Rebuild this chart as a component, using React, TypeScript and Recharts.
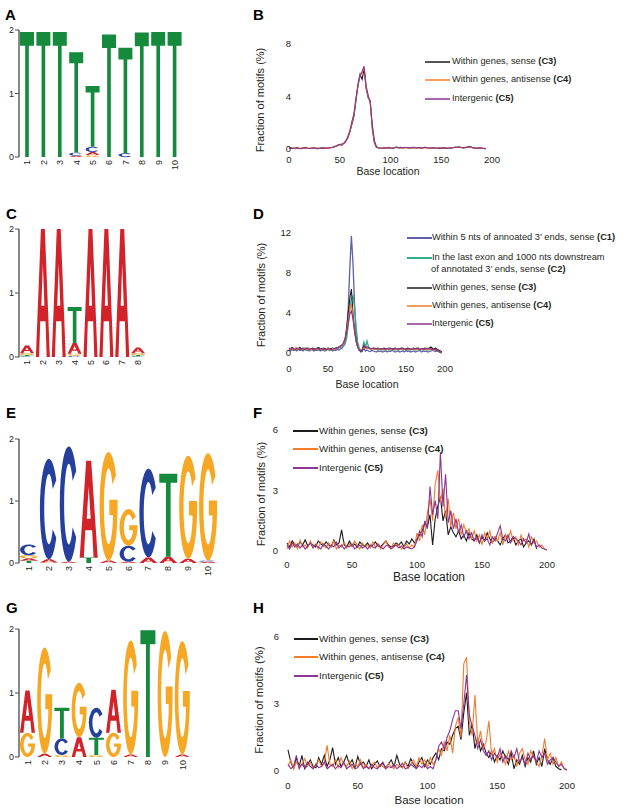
import React from 'react'
import { BarChart, Bar, XAxis, YAxis, LineChart, Line } from 'recharts'

const FONT = 'Arial, "Liberation Sans", Helvetica, sans-serif'
const INK = '#231f20'

// ---- sequence logos: information (bits) per nucleotide, positions 1..n ----
const A_A = [0, 0, 0, 0.02, 0.05, 0, 0, 0, 0, 0]
const A_C = [0, 0, 0, 0.05, 0.08, 0, 0.06, 0, 0, 0]
const A_G = [0, 0, 0, 0, 0.03, 0, 0, 0, 0, 0]
const A_T = [1.97, 1.97, 1.97, 1.58, 0.96, 1.93, 1.66, 1.96, 1.97, 1.97]

const C_A = [0.12, 2.0, 2.0, 0.17, 2.0, 2.0, 2.0, 0.09]
const C_C = [0.01, 0, 0, 0.02, 0, 0, 0, 0.01]
const C_G = [0.03, 0, 0, 0.03, 0, 0, 0, 0.03]
const C_T = [0.02, 0, 0, 0.56, 0, 0, 0, 0.02]

const E_A = [0.04, 0.05, 0.02, 1.56, 0.04, 0.02, 0.09, 0.1, 0.07, 0.02]
const E_C = [0.175, 1.62, 1.86, 0, 0, 0.26, 1.43, 0, 0, 0.02]
const E_G = [0.05, 0.01, 0, 0, 1.75, 0.59, 0, 0, 1.66, 1.73]
const E_T = [0.035, 0, 0, 0.09, 0, 0, 0, 1.34, 0, 0]

const G_A = [0.66, 0.05, 0, 0.31, 0, 0.67, 0.04, 0, 0, 0.04]
const G_C = [0, 0, 0.26, 0, 0.47, 0, 0, 0, 0, 0]
const G_G = [0.38, 1.66, 0.03, 0.85, 0.03, 0.38, 1.78, 0, 1.97, 1.77]
const G_T = [0, 0, 0.48, 0, 0.27, 0, 0, 1.98, 0, 0]

// ---- motif position profiles, one value every 2 bases from base 0 ----
const B_C3 = [
  0.05, 0.08, 0.04, 0.06, 0.1, 0.05, 0.03, 0.07, 0.12, 0.06, 0.04, 0.05, 0.08, 0.06, 0.03, 0.05, 0.07, 0.09, 0.05, 0.06, 0.1, 0.12, 0.15,
  0.2, 0.28, 0.35, 0.3, 0.45, 0.6, 0.85, 1.3, 1.9, 2.5, 3.7, 4.9, 5.7, 5.3, 6.1, 4.6, 3.9, 3.7, 1.6, 0.5, 0.15, 0.08,
  0.06, 0.05, 0.1, 0.08, 0.12, 0.07, 0.05, 0.1, 0.15, 0.09, 0.12, 0.08, 0.1, 0.13, 0.06, 0.09, 0.12, 0.1, 0.08, 0.11,
  0.07, 0.1, 0.13, 0.09, 0.06, 0.08, 0.1, 0.07, 0.05, 0.08, 0.06, 0.09, 0.07, 0.05, 0.06, 0.08, 0.1, 0.14, 0.12, 0.16,
  0.1, 0.08, 0.12, 0.15, 0.2, 0.12, 0.08, 0.05, 0.07, 0.1, 0.06, 0.04, 0.03,
]
const B_C4 = [
  0.06, 0.05, 0.07, 0.04, 0.08, 0.06, 0.05, 0.09, 0.07, 0.05, 0.06, 0.08, 0.05, 0.07, 0.06, 0.04, 0.08, 0.06, 0.07, 0.05, 0.09, 0.11, 0.14,
  0.22, 0.25, 0.33, 0.36, 0.42, 0.62, 0.9, 1.35, 2.0, 2.6, 3.8, 4.8, 5.6, 5.8, 6.2, 4.7, 4.0, 3.6, 1.8, 0.6, 0.18, 0.09,
  0.07, 0.06, 0.08, 0.1, 0.09, 0.06, 0.07, 0.11, 0.12, 0.08, 0.1, 0.09, 0.12, 0.1, 0.07, 0.08, 0.1, 0.12, 0.09, 0.1,
  0.08, 0.09, 0.11, 0.1, 0.07, 0.09, 0.08, 0.06, 0.07, 0.09, 0.07, 0.08, 0.06, 0.07, 0.08, 0.09, 0.11, 0.12, 0.13, 0.14,
  0.11, 0.1, 0.13, 0.14, 0.16, 0.11, 0.09, 0.06, 0.08, 0.09, 0.07, 0.05, 0.03,
]
const B_C5 = [
  0.07, 0.05, 0.06, 0.08, 0.06, 0.04, 0.06, 0.08, 0.1, 0.07, 0.05, 0.06, 0.07, 0.05, 0.05, 0.06, 0.08, 0.07, 0.06, 0.07, 0.08, 0.1, 0.16,
  0.21, 0.26, 0.34, 0.38, 0.4, 0.6, 0.95, 1.4, 2.1, 2.7, 3.9, 4.9, 5.6, 5.9, 6.3, 4.8, 4.1, 3.5, 1.9, 0.7, 0.2, 0.1,
  0.08, 0.06, 0.09, 0.07, 0.1, 0.08, 0.06, 0.09, 0.13, 0.1, 0.11, 0.1, 0.09, 0.11, 0.08, 0.1, 0.11, 0.09, 0.1, 0.12,
  0.09, 0.08, 0.12, 0.1, 0.08, 0.07, 0.09, 0.08, 0.06, 0.07, 0.08, 0.07, 0.08, 0.06, 0.07, 0.1, 0.09, 0.13, 0.15, 0.12,
  0.12, 0.09, 0.1, 0.16, 0.18, 0.13, 0.1, 0.07, 0.06, 0.08, 0.06, 0.05, 0.02,
]

const D_C1 = [
  0.3, 0.2, 0.35, 0.25, 0.3, 0.2, 0.4, 0.25, 0.3, 0.2, 0.35, 0.3, 0.25, 0.2, 0.3, 0.35, 0.2, 0.3, 0.25, 0.35, 0.2, 0.3, 0.25, 0.2, 0.3, 0.35, 0.25, 0.3, 0.2, 0.3, 0.25, 0.35, 0.3, 0.4, 0.5,
  0.7, 1.1, 2.2, 4.6, 8.6, 11.7, 9.0, 5.0, 2.0, 0.8, 0.3, 0.1, 0.15, 0.5, 0.2, 0.3,
  0.2, 0.15, 0.25, 0.2, 0.15, 0.1, 0.2, 0.15, 0.2, 0.1, 0.15, 0.2, 0.1, 0.2, 0.15, 0.25, 0.2, 0.1, 0.15, 0.2, 0.1, 0.15, 0.2, 0.1,
  0.25, 0.15, 0.2, 0.1, 0.15, 0.2, 0.1, 0.15, 0.2, 0.25, 0.1, 0.2, 0.15, 0.2, 0.1, 0.15, 0.2, 0.3, 0.2, 0.15, 0.2, 0.1, 0.05, 0.02,
]
const D_C2 = [
  0.4, 0.3, 0.45, 0.35, 0.3, 0.4, 0.35, 0.45, 0.3, 0.4, 0.35, 0.3, 0.4, 0.45, 0.35, 0.3, 0.4, 0.35, 0.3, 0.45, 0.4, 0.35, 0.3, 0.4, 0.35, 0.45, 0.3, 0.4, 0.35, 0.4, 0.45, 0.4, 0.5, 0.55, 0.6,
  0.7, 0.9, 1.5, 2.8, 4.4, 5.4, 5.7, 4.6, 2.6, 1.1, 0.5, 0.25, 0.4, 1.1, 0.6, 1.2,
  0.6, 0.5, 0.45, 0.4, 0.35, 0.4, 0.3, 0.35, 0.4, 0.3, 0.35, 0.3, 0.4, 0.35, 0.3, 0.35, 0.4, 0.3, 0.35, 0.3, 0.4, 0.35, 0.3, 0.35,
  0.4, 0.3, 0.35, 0.3, 0.35, 0.4, 0.3, 0.35, 0.3, 0.4, 0.35, 0.3, 0.35, 0.4, 0.3, 0.35, 0.3, 0.4, 0.35, 0.3, 0.25, 0.2, 0.1, 0.05,
]
const D_C3 = [
  0.5, 0.4, 0.55, 0.45, 0.4, 0.5, 0.45, 0.55, 0.4, 0.5, 0.45, 0.4, 0.5, 0.45, 0.4, 0.5, 0.45, 0.4, 0.5, 0.55, 0.45, 0.4, 0.5, 0.45, 0.4, 0.5, 0.45, 0.4, 0.5, 0.45, 0.5, 0.55, 0.6, 0.7, 0.8,
  1.0, 1.5, 2.6, 4.0, 5.5, 6.4, 4.0, 2.4, 1.2, 0.6, 0.3, 0.2, 0.3, 0.7, 0.5, 0.6,
  0.5, 0.45, 0.4, 0.5, 0.45, 0.4, 0.5, 0.45, 0.4, 0.45, 0.5, 0.4, 0.45, 0.5, 0.4, 0.45, 0.4, 0.5, 0.45, 0.4, 0.45, 0.5, 0.4, 0.45,
  0.4, 0.5, 0.45, 0.4, 0.45, 0.5, 0.4, 0.45, 0.5, 0.4, 0.45, 0.4, 0.5, 0.45, 0.4, 0.5, 0.6, 0.45, 0.4, 0.5, 0.35, 0.3, 0.2, 0.1,
]
const D_C4 = [
  0.35, 0.45, 0.3, 0.4, 0.5, 0.35, 0.45, 0.3, 0.4, 0.35, 0.5, 0.4, 0.35, 0.45, 0.3, 0.4, 0.35, 0.45, 0.4, 0.3, 0.35, 0.45, 0.4, 0.3, 0.45, 0.35, 0.4, 0.3, 0.45, 0.4, 0.35, 0.5, 0.55, 0.65, 0.75,
  0.9, 1.3, 2.2, 3.4, 4.4, 4.9, 3.6, 2.1, 1.1, 0.6, 0.35, 0.3, 0.35, 0.5, 0.45, 0.55,
  0.45, 0.4, 0.35, 0.45, 0.4, 0.35, 0.4, 0.45, 0.35, 0.4, 0.3, 0.4, 0.35, 0.45, 0.4, 0.3, 0.35, 0.4, 0.45, 0.35, 0.3, 0.4, 0.35, 0.45,
  0.4, 0.35, 0.3, 0.4, 0.45, 0.35, 0.4, 0.3, 0.35, 0.45, 0.4, 0.35, 0.4, 0.3, 0.45, 0.35, 0.4, 0.3, 0.35, 0.3, 0.25, 0.2, 0.1, 0.05,
]
const D_C5 = [
  0.45, 0.35, 0.5, 0.4, 0.35, 0.45, 0.4, 0.3, 0.45, 0.4, 0.35, 0.5, 0.4, 0.35, 0.45, 0.4, 0.3, 0.4, 0.45, 0.35, 0.4, 0.45, 0.35, 0.4, 0.3, 0.45, 0.4, 0.35, 0.4, 0.45, 0.4, 0.5, 0.6, 0.7, 0.8,
  1.0, 1.4, 2.1, 3.0, 3.9, 4.2, 3.4, 2.2, 1.2, 0.6, 0.3, 0.25, 0.3, 0.8, 0.6, 0.5,
  0.5, 0.45, 0.4, 0.45, 0.5, 0.4, 0.45, 0.35, 0.4, 0.45, 0.4, 0.35, 0.45, 0.4, 0.5, 0.4, 0.35, 0.45, 0.4, 0.35, 0.45, 0.4, 0.5, 0.4,
  0.35, 0.4, 0.45, 0.4, 0.35, 0.45, 0.4, 0.5, 0.4, 0.35, 0.45, 0.4, 0.35, 0.45, 0.5, 0.4, 0.45, 0.35, 0.4, 0.3, 0.25, 0.2, 0.1, 0.05,
]

const F_C3 = [
  0.4, 0.2, 0.5, 0.3, 0.2, 0.45, 0.3, 0.55, 0.25, 0.4, 0.3, 0.2, 0.5, 0.35, 0.25, 0.45, 0.3, 0.2, 0.55, 0.3, 0.4,
  1.05, 0.3, 0.2, 0.5, 0.25, 0.35, 0.2, 0.45, 0.3, 0.25, 0.4, 0.2, 0.3, 0.45, 0.25, 0.2, 0.35, 0.5, 0.3, 0.2, 0.25, 0.4, 0.3, 0.45, 0.2, 0.5, 0.35, 0.6, 0.4,
  0.6, 0.8, 1.0, 1.4, 1.2, 1.8, 0.3, 1.6, 2.2, 2.7, 1.5, 2.0, 0.8, 1.2, 0.9, 0.7, 1.0, 0.6, 0.8, 0.5, 0.9,
  0.6, 0.5, 0.8, 0.4, 0.7, 0.5, 0.9, 0.6, 0.4, 0.7, 0.5, 0.3, 0.6, 0.8, 0.4, 0.5, 0.7, 0.3, 0.5, 0.6, 0.2, 0.4, 0.5, 0.3, 0.6, 0.1,
]
const F_C4 = [
  0.1, 0.5, 0.2, 0.4, 0.1, 0.55, 0.2, 0.3, 0.15, 0.5, 0.2, 0.35, 0.1, 0.45, 0.3, 0.15, 0.4, 0.2, 0.5, 0.1,
  0.3, 0.2, 0.45, 0.15, 0.35, 0.2, 0.5, 0.3, 0.1, 0.4, 0.2, 0.3, 0.15, 0.45, 0.2, 0.35, 0.1, 0.3, 0.5, 0.2,
  0.15, 0.4, 0.25, 0.3, 0.1, 0.2, 0.35, 0.15, 0.3, 0.2,
  0.9, 0.5, 1.3, 0.8, 1.9, 2.6, 1.5, 3.3, 4.0, 2.4, 3.1, 1.6, 2.6, 1.2, 1.9, 1.1, 1.6, 0.8, 1.3, 0.9, 1.1,
  0.6, 1.0, 0.5, 0.8, 0.3, 0.9, 0.6, 1.0, 0.4, 0.7, 0.5, 0.9, 0.3, 0.8, 0.6, 1.0, 0.5, 0.7, 0.3, 0.8, 0.5, 0.6, 0.2, 0.7, 0.4, 0.5, 0.2, 0.3, 0.1, 0.05,
]
const F_C5 = [
  0.3, 0.1, 0.4, 0.2, 0.35, 0.15, 0.3, 0.1, 0.25, 0.4, 0.15, 0.3, 0.2, 0.1, 0.35, 0.25, 0.1, 0.3, 0.2, 0.45,
  0.15, 0.3, 0.1, 0.25, 0.2, 0.35, 0.1, 0.2, 0.3, 0.15, 0.25, 0.1, 0.3, 0.2, 0.15, 0.35, 0.2, 0.1, 0.25, 0.3,
  0.1, 0.2, 0.3, 0.15, 0.25, 0.1, 0.2, 0.15, 0.1, 0.2,
  0.5, 1.0, 0.7, 1.5, 1.1, 3.2, 1.8, 2.5, 1.6, 4.9, 2.2, 3.8, 1.4, 2.0, 1.1, 1.6, 0.9, 1.3, 0.7, 1.0, 0.6,
  0.9, 0.5, 0.7, 0.4, 0.8, 0.5, 0.6, 0.3, 0.7, 0.5, 0.9, 1.25, 0.6, 0.5, 0.8, 0.4, 0.7, 0.6, 0.5, 0.3, 0.6, 0.4, 0.85, 0.3, 0.5, 0.2, 0.3, 0.15, 0.1, 0.05,
]

const H_C3 = [
  0.95, 0.4, 0.1, 0.6, 0.2, 0.7, 0.1, 0.3, 0.5, 0.2, 0.15, 0.6, 0.3, 0.7, 0.2, 0.5, 1.05, 0.3, 0.6, 0.2, 0.4, 0.7, 0.3, 0.5, 0.15,
  0.65, 0.3, 0.4, 0.2, 0.5, 0.1, 0.3, 0.45, 0.2, 0.35, 0.15, 0.3, 0.5, 0.2, 0.7, 0.3, 0.15, 0.4, 0.2, 0.55, 0.3, 0.15, 0.4, 0.6, 0.2, 0.5,
  0.3, 0.6, 0.8, 0.5, 1.0, 0.9, 1.3, 1.2, 1.6, 1.9, 2.0, 1.4, 2.6, 3.5, 1.6, 2.1, 1.0, 1.5, 0.9, 1.2,
  0.8, 0.6, 0.9, 0.4, 0.7, 0.5, 0.9, 0.6, 0.3, 0.8, 0.1, 0.5, 0.3, 0.7, 0.2, 0.6, 0.4, 0.9, 0.3, 0.6, 0.2, 1.0, 0.5, 0.3, 0.6, 0.2, 0.1, 0.05,
]
const H_C4 = [
  0.2, 0.5, 0.1, 0.4, 0.2, 0.3, 0.55, 0.2, 0.4, 0.1, 0.3, 0.5, 0.2, 0.35, 1.15, 0.3, 0.2, 0.5, 0.15, 0.6, 0.3, 0.2, 0.45, 0.1, 0.3,
  0.2, 0.5, 0.15, 0.3, 0.1, 0.2, 0.4, 0.15, 0.3, 0.2, 0.1, 0.35, 0.2, 0.1, 0.3, 0.2, 0.15, 0.4, 0.1, 0.3, 0.5, 0.2, 0.6, 0.3, 0.5, 0.2,
  0.6, 0.3, 0.5, 1.0, 0.7, 1.3, 0.9, 1.6, 0.8, 2.0, 2.4, 1.5, 4.8, 5.1, 2.2, 1.6, 3.4, 1.2, 1.8, 1.0,
  1.3, 2.25, 0.7, 1.0, 0.4, 0.8, 0.6, 0.3, 0.9, 0.5, 0.7, 0.2, 0.8, 1.0, 0.5, 0.3, 0.9, 0.6, 0.4, 0.2, 0.7, 1.45, 0.5, 0.8, 0.3, 0.6, 0.2, 0.4, 0.1, 0.05,
]
const H_C5 = [
  0.3, 0.1, 0.2, 0.7, 0.1, 0.3, 0.15, 0.4, 0.2, 0.1, 0.3, 0.15, 0.2, 0.4, 0.1, 0.2, 0.3, 0.1, 0.25, 0.15, 0.4, 0.1, 0.2, 0.3, 0.1,
  0.15, 0.35, 0.1, 0.2, 0.1, 0.3, 0.15, 0.1, 0.25, 0.4, 0.1, 0.2, 0.15, 0.3, 0.1, 0.2, 0.35, 0.1, 0.15, 0.3, 0.2, 0.1, 0.25, 0.15, 0.3, 0.1,
  0.2, 0.1, 0.5, 1.1, 1.3, 1.0, 1.5, 1.8, 2.3, 2.7, 2.7, 1.9, 3.0, 4.3, 2.5, 2.0, 1.6, 1.0, 1.4, 0.9,
  0.7, 0.9, 0.5, 0.8, 0.6, 1.0, 0.4, 0.7, 0.5, 0.9, 0.6, 1.0, 0.4, 0.6, 0.3, 0.8, 0.5, 0.7, 0.4, 0.9, 0.6, 0.8, 0.3, 0.5, 0.6, 0.4, 0.2, 0.3, 0.1, 0.05,
]

const X_TICKS = [0, 50, 100, 150, 200]

const BLACK = '#1e1a1b'
const ORANGE = '#f47b2c'
const PURPLE = '#8b3592'
const SLATE = '#5d5fa8'
const TEAL = '#37aa8c'

const LETTER_COLORS: Record<string, string> = { A: '#d2232a', C: '#24409c', G: '#f6a724', T: '#158a3d' }

// letter outlines in a 100x100 box, stretched to each stack cell
const GLYPHS: Record<string, string> = {
  A: 'M0,100 L36,0 L64,0 L100,100 L77,100 L69,72 L31,72 L23,100 Z M39,60 L61,60 L50,27 Z',
  C: 'M90.96,21.32 A50,50 0 1 0 90.96,78.68 L71.3,70.08 A26,35 0 1 1 71.3,29.92 Z',
  G: 'M90.96,21.32 A50,50 0 1 0 100,50 L100,44 L54,44 L54,58 L74,58 L74,63.5 A26,35 0 1 1 71.3,29.92 Z',
  T: 'M0,0 L100,0 L100,11 L63,11 L63,100 L37,100 L37,11 L0,11 Z',
}

function logoRows(a: number[], c: number[], g: number[], t: number[]) {
  return a.map((_, i) => {
    const cells = ([['A', a[i]], ['C', c[i]], ['G', g[i]], ['T', t[i]]] as [string, number][])
      .filter(d => d[1] > 0)
      .sort((p, q) => p[1] - q[1])
    const row: any = { pos: String(i + 1) }
    for (let k = 0; k < 4; k++) {
      row[`s${k}`] = cells[k] ? cells[k][1] : 0
      row[`l${k}`] = cells[k] ? cells[k][0] : ''
    }
    return row
  })
}

function traceRows(series: number[][]) {
  const n = Math.max(...series.map(s => s.length))
  return Array.from({ length: n }, (_, i) => {
    const row: any = { base: i * 2 }
    series.forEach((s, k) => { if (i < s.length) row[`v${k}`] = s[i] })
    return row
  })
}

function Glyph(props: any) {
  const { x, y, width, height, payload, slot } = props
  const letter = payload && payload[`l${slot}`]
  if (!letter || !height || height < 0.2) return null
  return (
    <path
      d={GLYPHS[letter]}
      fill={LETTER_COLORS[letter]}
      fillRule="evenodd"
      transform={`translate(${x},${y}) scale(${width / 100},${height / 100})`}
    />
  )
}

function RotTick(props: any) {
  const { x, y, payload } = props
  return (
    <text x={x} y={y} transform={`rotate(-90 ${x} ${y})`} textAnchor="end" dy="0.35em"
      fontSize={9} fontFamily={FONT} fill={INK}>
      {payload.value}
    </text>
  )
}

function Logo({ top, height, margin, rows }: any) {
  return (
    <div style={{ position: 'absolute', left: 0, top }}>
      <BarChart width={240} height={height} data={rows} margin={margin} barCategoryGap={1} barGap={0}>
        <XAxis dataKey="pos" interval={0} height={20} axisLine={false} tickLine={false} tickSize={0} tickMargin={3} tick={<RotTick />} />
        <YAxis domain={[0, 2]} ticks={[0, 1, 2]} width={19} tickSize={4} tickMargin={1}
          axisLine={{ stroke: '#4a4a4a', strokeWidth: 1.3 }} tickLine={{ stroke: '#4a4a4a' }}
          tick={{ fontSize: 9, fill: INK, fontFamily: FONT }} />
        {[0, 1, 2, 3].map(k => (
          <Bar key={k} dataKey={`s${k}`} stackId="logo" isAnimationActive={false}
            shape={(p: any) => <Glyph {...p} slot={k} />} />
        ))}
      </BarChart>
    </div>
  )
}

function Trace({ top, height, margin, yw, rows, colors, widths, yMax, yTicks, tickGapX, tickGapY }: any) {
  return (
    <div style={{ position: 'absolute', left: 240, top }}>
      <LineChart width={388} height={height} data={rows} margin={margin}>
        <XAxis type="number" dataKey="base" domain={[0, 200]} ticks={X_TICKS} height={30}
          axisLine={false} tickLine={false} tickSize={0} tickMargin={tickGapX}
          tick={{ fontSize: 9.5, fill: INK, fontFamily: FONT }} />
        <YAxis domain={[0, yMax]} ticks={yTicks} width={yw} axisLine={false} tickLine={false}
          tickSize={0} tickMargin={tickGapY} tick={{ fontSize: 9.5, fill: INK, fontFamily: FONT }} />
        {colors.map((c: string, k: number) => (
          <Line key={k} dataKey={`v${k}`} stroke={c} strokeWidth={widths ? widths[k] : 1.1} dot={false}
            type="linear" isAnimationActive={false} />
        ))}
      </LineChart>
    </div>
  )
}

function Txt({ x, y, size, children, bold, center, rotate }: any) {
  const tf = rotate
    ? 'translate(-50%,-50%) rotate(-90deg)'
    : center ? 'translate(-50%,-50%)' : 'translateY(-50%)'
  return (
    <div style={{
      position: 'absolute', left: x, top: y, fontSize: size, lineHeight: 1, fontFamily: FONT,
      fontWeight: bold ? 'bold' : 'normal', color: INK, whiteSpace: 'nowrap', transform: tf,
    }}>{children}</div>
  )
}

function Key({ x1, x2, tx, y, color, w, size, text, tag, more }: any) {
  return (
    <>
      <svg style={{ position: 'absolute', left: x1, top: y - 2 }} width={x2 - x1} height={4}>
        <line x1={0} y1={2} x2={x2 - x1} y2={2} stroke={color} strokeWidth={w} />
      </svg>
      <Txt x={tx} y={y} size={size}>{text}{tag ? <b> {tag}</b> : null}</Txt>
      {more ? <Txt x={tx - 1} y={y + 12} size={size}>{more.text}<b> {more.tag}</b></Txt> : null}
    </>
  )
}

function PanelLetter({ x, y, children }: any) {
  return (
    <div style={{ position: 'absolute', left: x, top: y - 2, fontSize: 15, lineHeight: 1, fontWeight: 'bold', fontFamily: FONT, color: '#000' }}>
      {children}
    </div>
  )
}

export default function App() {
  const rowsA = logoRows(A_A, A_C, A_G, A_T)
  const rowsC = logoRows(C_A, C_C, C_G, C_T)
  const rowsE = logoRows(E_A, E_C, E_G, E_T)
  const rowsG = logoRows(G_A, G_C, G_G, G_T)
  const rowsB = traceRows([B_C3, B_C4, B_C5])
  const rowsD = traceRows([D_C1, D_C2, D_C3, D_C4, D_C5])
  const rowsF = traceRows([F_C3, F_C4, F_C5])
  const rowsH = traceRows([H_C3, H_C4, H_C5])

  return (
    <div style={{ position: 'absolute', left: 0, top: 0, width: 628, height: 809, background: '#fff', overflow: 'hidden' }}>
      <PanelLetter x={5} y={9}>A</PanelLetter>
      <PanelLetter x={253} y={9}>B</PanelLetter>
      <PanelLetter x={6} y={208}>C</PanelLetter>
      <PanelLetter x={253} y={208}>D</PanelLetter>
      <PanelLetter x={6} y={407}>E</PanelLetter>
      <PanelLetter x={253} y={407}>F</PanelLetter>
      <PanelLetter x={6} y={602}>G</PanelLetter>
      <PanelLetter x={253} y={602}>H</PanelLetter>

      <Logo top={0} height={185} margin={{ top: 30, right: 57, bottom: 8, left: 0 }} rows={rowsA} />
      <Logo top={195} height={185} margin={{ top: 34, right: 94, bottom: 3, left: 0 }} rows={rowsC} />
      <Logo top={395} height={195} margin={{ top: 44, right: 22, bottom: 7, left: 0 }} rows={rowsE} />
      <Logo top={600} height={185} margin={{ top: 29, right: 49, bottom: 8, left: 0 }} rows={rowsG} />

      <Trace top={0} height={185} margin={{ top: 44, right: 136, bottom: 6, left: 9 }} yw={40}
        rows={rowsB} colors={[BLACK, ORANGE, PURPLE]} yMax={8} yTicks={[0, 4, 8]} tickGapX={7} tickGapY={-2} />
      <Trace top={195} height={195} margin={{ top: 38, right: 183, bottom: 7, left: 9 }} yw={40}
        rows={rowsD} colors={[SLATE, TEAL, BLACK, ORANGE, PURPLE]} widths={[1.3, 1.3, 1.1, 1.1, 1.1]}
        yMax={12} yTicks={[0, 4, 8, 12]} tickGapX={12} tickGapY={-2} />
      <Trace top={395} height={190} margin={{ top: 35, right: 81, bottom: 4, left: 9 }} yw={38}
        rows={rowsF} colors={[BLACK, ORANGE, PURPLE]} yMax={6} yTicks={[0, 3, 6]} tickGapX={10} tickGapY={9} />
      <Trace top={605} height={204} margin={{ top: 32, right: 61, bottom: 8, left: 9 }} yw={39}
        rows={rowsH} colors={[BLACK, ORANGE, PURPLE]} yMax={6} yTicks={[0, 3, 6]} tickGapX={11} tickGapY={9} />

      {/* axis titles */}
      <Txt x={260} y={100} size={11} rotate>Fraction of motifs (%)</Txt>
      <Txt x={388} y={171} size={10.5} center>Base location</Txt>
      <Txt x={261} y={295} size={11} rotate>Fraction of motifs (%)</Txt>
      <Txt x={367} y={384} size={10.5} center>Base location</Txt>
      <Txt x={261} y={494} size={11} rotate>Fraction of motifs (%)</Txt>
      <Txt x={429} y={577} size={12} center>Base location</Txt>
      <Txt x={260} y={700} size={11.3} rotate>Fraction of motifs (%)</Txt>
      <Txt x={429} y={801} size={11.5} center>Base location</Txt>

      {/* legends */}
      <Key x1={425} x2={450} tx={452} y={62} color={BLACK} w={1.5} size={9.3} text="Within genes, sense" tag="(C3)" />
      <Key x1={425} x2={450} tx={452} y={80} color={ORANGE} w={1.5} size={9.3} text="Within genes, antisense" tag="(C4)" />
      <Key x1={425} x2={450} tx={452} y={99} color={PURPLE} w={1.5} size={9.3} text="Intergenic" tag="(C5)" />

      <Key x1={407} x2={432} tx={432} y={238} color={SLATE} w={2} size={9.3} text="Within 5 nts of annoated 3’ ends, sense" tag="(C1)" />
      <Key x1={407} x2={432} tx={432} y={258} color={TEAL} w={2} size={9.3} text="In the last exon and 1000 nts downstream"
        more={{ text: 'of annotated 3’ ends, sense', tag: '(C2)' }} />
      <Key x1={407} x2={432} tx={432} y={288} color={BLACK} w={1.5} size={9.3} text="Within genes, sense" tag="(C3)" />
      <Key x1={407} x2={432} tx={432} y={306} color={ORANGE} w={1.5} size={9.3} text="Within genes, antisense" tag="(C4)" />
      <Key x1={407} x2={432} tx={432} y={324} color={PURPLE} w={1.5} size={9.3} text="Intergenic" tag="(C5)" />

      <Key x1={293} x2={318} tx={319} y={431} color={BLACK} w={2} size={9.7} text="Within genes, sense" tag="(C3)" />
      <Key x1={293} x2={318} tx={319} y={449} color={ORANGE} w={2} size={9.7} text="Within genes, antisense" tag="(C4)" />
      <Key x1={293} x2={318} tx={319} y={468} color={PURPLE} w={2} size={9.7} text="Intergenic" tag="(C5)" />

      <Key x1={294} x2={318} tx={319} y={639} color={BLACK} w={2} size={9.8} text="Within genes, sense" tag="(C3)" />
      <Key x1={294} x2={318} tx={319} y={657} color={ORANGE} w={2} size={9.8} text="Within genes, antisense" tag="(C4)" />
      <Key x1={294} x2={318} tx={319} y={676} color={PURPLE} w={2} size={9.8} text="Intergenic" tag="(C5)" />
    </div>
  )
}
